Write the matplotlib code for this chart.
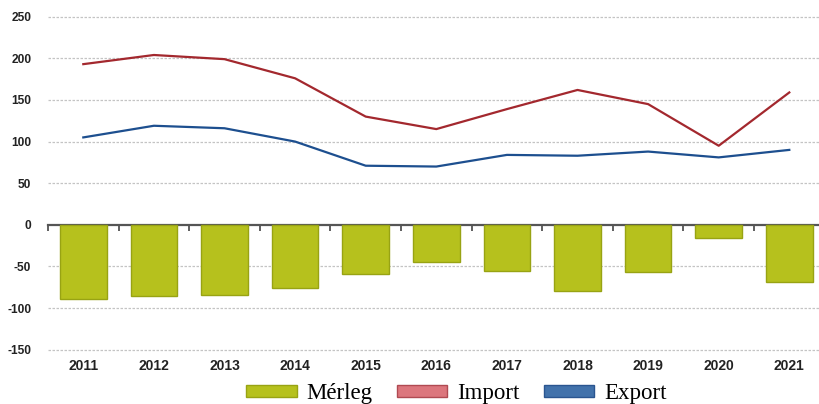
import matplotlib
matplotlib.use("Agg")
import matplotlib.pyplot as plt
from matplotlib.patches import Patch
import numpy as np

years = ["2011", "2012", "2013", "2014", "2015", "2016", "2017", "2018", "2019", "2020", "2021"]
merleg = [-89, -86, -84, -76, -59, -45, -55, -79, -57, -16, -69]
imports = [193, 204, 199, 176, 130, 115, 139, 162, 145, 95, 159]
exports = [105, 119, 116, 100, 71, 70, 84, 83, 88, 81, 90]
yticks = [-150, -100, -50, 0, 50, 100, 150, 200, 250]

W, H = 820, 404
fig = plt.figure(figsize=(W / 100, H / 100), dpi=100)
ax = fig.add_axes([48 / W, (H - 349.7) / H, (820 - 48) / W, (349.7 - 16.7) / H])

x = np.arange(len(years))
ax.bar(x, merleg, width=0.66, color="#b6c11d", edgecolor="#98a313", linewidth=1.0, zorder=3)
ax.plot(x, imports, color="#a3282e", linewidth=1.6, zorder=4)
ax.plot(x, exports, color="#1d4f8f", linewidth=1.6, zorder=4)

ylo, yhi = -150, 250
ax.set_ylim(ylo, yhi)
ax.set_xlim(-0.5, -0.5 + 772 / 70.6)
ax.set_yticks(yticks)
ax.set_yticklabels([str(v) for v in yticks], fontfamily="Liberation Sans", fontweight="bold", fontsize=8.6, color="#222222")
ax.yaxis.grid(True, linestyle=(0, (2, 1.2)), color="#c4c4c4", linewidth=0.9, zorder=0)
for gl, v in zip(ax.get_ygridlines(), yticks):
    gl.set_clip_on(False)
    if v == 0:
        gl.set_visible(False)
ax.tick_params(axis="y", length=0, pad=12)

ax.set_xticks(x)
ax.set_xticklabels(years, fontfamily="Liberation Sans", fontweight="bold", fontsize=10, color="#222222")
ax.tick_params(axis="x", length=0, pad=7)

for s in ax.spines.values():
    s.set_visible(False)

zero_frac = (0 - ylo) / (yhi - ylo)
sec = ax.secondary_xaxis(zero_frac)
sec.set_xticks(np.arange(len(years) + 1) - 0.5)
sec.set_xticklabels([])
sec.tick_params(axis="x", direction="out", length=4, width=1.2, color="#444444")
sec.spines["bottom"].set_color("#555555")
sec.spines["bottom"].set_linewidth(1.6)
for k in ("top", "left", "right"):
    if k in sec.spines:
        sec.spines[k].set_visible(False)

handles = [
    Patch(facecolor="#b6c11d", edgecolor="#98a313", label="Mérleg"),
    Patch(facecolor="#dc767d", edgecolor="#b04a52", label="Import"),
    Patch(facecolor="#4272ab", edgecolor="#2a5590", label="Export"),
]
fig.legend(handles=handles, loc="center", bbox_to_anchor=(456.5 / W, 1 - 393.5 / H), ncol=3,
           frameon=False, prop={"family": "Liberation Serif", "size": 16.5},
           handlelength=2.2, handleheight=0.44, handletextpad=0.44, columnspacing=1.05,
           borderpad=0.1)

fig.savefig("out.png", dpi=100)
